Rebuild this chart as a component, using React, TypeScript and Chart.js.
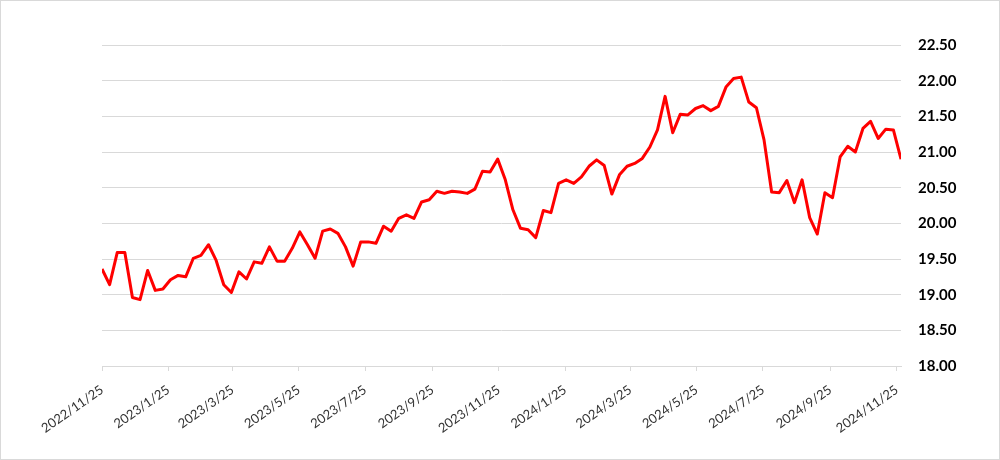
import React, { useEffect, useRef } from "react";
import { Chart, registerables } from "chart.js";

Chart.register(...registerables);

const dates: string[] = [
  "2022/11/25", "2022/12/2", "2022/12/9", "2022/12/16", "2022/12/23", "2022/12/30",
  "2023/1/6", "2023/1/13", "2023/1/20", "2023/1/27", "2023/2/3", "2023/2/10", "2023/2/17", "2023/2/24",
  "2023/3/3", "2023/3/10", "2023/3/17", "2023/3/24", "2023/3/31", "2023/4/7", "2023/4/14", "2023/4/21",
  "2023/4/28", "2023/5/5", "2023/5/12", "2023/5/19", "2023/5/26", "2023/6/2", "2023/6/9", "2023/6/16",
  "2023/6/23", "2023/6/30", "2023/7/7", "2023/7/14", "2023/7/21", "2023/7/28", "2023/8/4", "2023/8/11",
  "2023/8/18", "2023/8/25", "2023/9/1", "2023/9/8", "2023/9/15", "2023/9/22", "2023/9/29", "2023/10/6",
  "2023/10/13", "2023/10/20", "2023/10/27", "2023/11/3", "2023/11/10", "2023/11/17", "2023/11/24",
  "2023/12/1", "2023/12/8", "2023/12/15", "2023/12/22", "2023/12/29",
  "2024/1/5", "2024/1/12", "2024/1/19", "2024/1/26", "2024/2/2", "2024/2/9", "2024/2/16", "2024/2/23",
  "2024/3/1", "2024/3/8", "2024/3/15", "2024/3/22", "2024/3/29", "2024/4/5", "2024/4/12", "2024/4/19",
  "2024/4/26", "2024/5/3", "2024/5/10", "2024/5/17", "2024/5/24", "2024/5/31", "2024/6/7", "2024/6/14",
  "2024/6/21", "2024/6/28", "2024/7/5", "2024/7/12", "2024/7/19", "2024/7/26", "2024/8/2", "2024/8/9",
  "2024/8/16", "2024/8/23", "2024/8/30", "2024/9/6", "2024/9/13", "2024/9/20", "2024/9/27", "2024/10/4",
  "2024/10/11", "2024/10/18", "2024/10/25", "2024/11/1", "2024/11/8", "2024/11/15", "2024/11/22",
  "2024/11/29",
];

const values: number[] = [
  19.36, 19.14, 19.59, 19.59, 18.96, 18.93, 19.34, 19.06, 19.08, 19.21,
  19.27, 19.25, 19.51, 19.55, 19.7, 19.48, 19.14, 19.03, 19.32, 19.22,
  19.46, 19.44, 19.67, 19.47, 19.47, 19.65, 19.88, 19.7, 19.51, 19.89,
  19.92, 19.86, 19.67, 19.4, 19.74, 19.74, 19.72, 19.96, 19.89, 20.07,
  20.12, 20.07, 20.3, 20.33, 20.45, 20.42, 20.45, 20.44, 20.42, 20.48,
  20.73, 20.72, 20.9, 20.61, 20.19, 19.93, 19.91, 19.8, 20.18, 20.15,
  20.56, 20.61, 20.56, 20.65, 20.8, 20.89, 20.81, 20.41, 20.68, 20.8,
  20.84, 20.91, 21.07, 21.31, 21.78, 21.27, 21.53, 21.52, 21.61, 21.65,
  21.58, 21.64, 21.91, 22.03, 22.05, 21.7, 21.62, 21.17, 20.44, 20.43,
  20.6, 20.29, 20.61, 20.08, 19.85, 20.43, 20.36, 20.93, 21.08, 21.0,
  21.33, 21.43, 21.19, 21.32, 21.31, 20.9,
];

const tickDates: string[] = [
  "2022/11/25", "2023/1/25", "2023/3/25", "2023/5/25", "2023/7/25", "2023/9/25", "2023/11/25",
  "2024/1/25", "2024/3/25", "2024/5/25", "2024/7/25", "2024/9/25", "2024/11/25",
];

const yMin = 18;
const yMax = 22.5;
const yStep = 0.5;

const DAY_MS = 86400000;
const toDay = (s: string): number => {
  const [y, m, d] = s.split("/").map(Number);
  return Date.UTC(y, m - 1, d) / DAY_MS;
};
const origin = toDay(dates[0]);
const xMax = toDay(dates[dates.length - 1]) - origin;

const borderPlugin = {
  id: "outerBorder",
  afterDraw(chart: any) {
    const { ctx, width, height } = chart;
    ctx.save();
    ctx.strokeStyle = "#d9d9d9";
    ctx.lineWidth = 1;
    ctx.strokeRect(0.5, 0.5, width - 1, height - 1);
    ctx.restore();
  },
};

export default function App() {
  const canvasRef = useRef<HTMLCanvasElement | null>(null);

  useEffect(() => {
    document.body.style.margin = "0";
    const canvas = canvasRef.current;
    if (!canvas) return;
    const points = dates.map((d, i) => ({ x: toDay(d) - origin, y: values[i] }));

    const chart = new Chart(canvas, {
      type: "line",
      data: {
        datasets: [
          {
            data: points,
            borderColor: "#ff0000",
            borderWidth: 3,
            pointRadius: 0,
            pointHoverRadius: 0,
            tension: 0,
            borderJoinStyle: "round",
            borderCapStyle: "butt",
            fill: false,
          },
        ],
      },
      options: {
        animation: false,
        responsive: false,
        maintainAspectRatio: false,
        events: [],
        layout: { padding: { left: 102, top: 45, right: 0, bottom: 0 } },
        plugins: {
          legend: { display: false },
          tooltip: { enabled: false },
          title: { display: false },
        },
        scales: {
          x: {
            type: "linear",
            min: 0,
            max: xMax,
            afterBuildTicks: (scale: any) => {
              scale.ticks = tickDates.map((s) => ({ value: toDay(s) - origin }));
            },
            afterFit: (scale: any) => {
              scale.height = 94;
            },
            grid: {
              drawOnChartArea: false,
              drawTicks: true,
              tickLength: 5,
              color: "#d9d9d9",
            },
            border: { display: true, color: "#d9d9d9" },
            ticks: {
              autoSkip: false,
              maxRotation: 35,
              minRotation: 35,
              padding: 11,
              color: "#333333",
              font: { family: "Lato", size: 13 },
              callback: (_v: any, i: number) => tickDates[i],
            },
          },
          y: {
            type: "linear",
            position: "right",
            min: yMin,
            max: yMax,
            afterFit: (scale: any) => {
              scale.width = 99;
            },
            grid: { color: "#d9d9d9", drawTicks: false },
            border: { display: false },
            ticks: {
              stepSize: yStep,
              padding: 17,
              color: "#000000",
              font: { family: "Lato", size: 15, weight: "bold" },
              callback: (v: any) => Number(v).toFixed(2),
            },
          },
        },
      },
      plugins: [borderPlugin],
    } as any);

    return () => {
      chart.destroy();
    };
  }, []);

  return (
    <div style={{ width: 1000, height: 460 }}>
      <canvas ref={canvasRef} width={1000} height={460} style={{ display: "block", width: 1000, height: 460 }} />
    </div>
  );
}
